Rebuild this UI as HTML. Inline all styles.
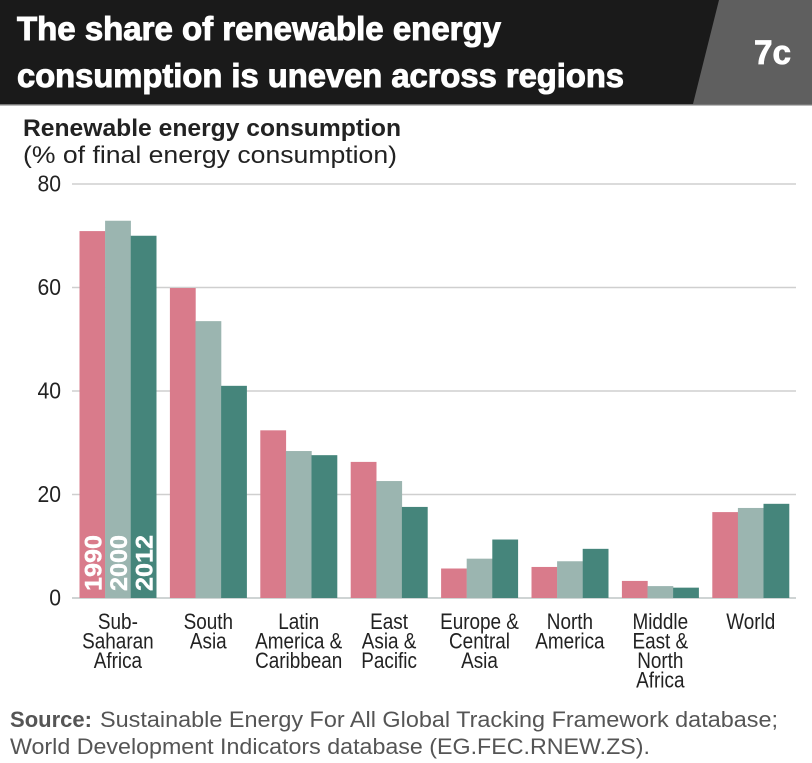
<!DOCTYPE html>
<html>
<head>
<meta charset="utf-8">
<style>
html,body{margin:0;padding:0;background:#fff;}
svg{display:block;}
text{font-family:"Liberation Sans",sans-serif;}
</style>
</head>
<body>
<svg id="chart" xmlns="http://www.w3.org/2000/svg" width="812" height="763" viewBox="0 0 812 763">
  <rect x="0" y="0" width="812" height="763" fill="#ffffff"/>
  <rect x="0" y="0" width="812" height="104" fill="#1a1a1a"/>
  <polygon points="719,0 812,0 812,104 693,104" fill="#5f5f5f"/>
  <rect x="0" y="104" width="812" height="1.5" fill="#777777"/>
  <text x="17" y="40" font-size="33" font-weight="700" fill="#fff" stroke="#fff" stroke-width="1" textLength="484" lengthAdjust="spacingAndGlyphs">The share of renewable energy</text>
  <text x="17" y="87" font-size="33" font-weight="700" fill="#fff" stroke="#fff" stroke-width="1" textLength="607" lengthAdjust="spacingAndGlyphs">consumption is uneven across regions</text>
  <text x="754" y="64" font-size="34" font-weight="700" fill="#fff" stroke="#fff" stroke-width="0.8" textLength="37" lengthAdjust="spacingAndGlyphs">7c</text>
  <text x="23" y="136" font-size="24" font-weight="700" fill="#222" textLength="378" lengthAdjust="spacingAndGlyphs">Renewable energy consumption</text>
  <text x="23" y="163" font-size="24" fill="#222" textLength="374" lengthAdjust="spacingAndGlyphs">(% of final energy consumption)</text>
  <g id="grid"></g>
  <g id="bars"></g>
  <g id="labels"></g>
  <text x="10" y="727" font-size="22" font-weight="700" fill="#555" textLength="82" lengthAdjust="spacingAndGlyphs">Source:</text>
  <text x="100" y="727" font-size="22" fill="#555" textLength="678" lengthAdjust="spacingAndGlyphs">Sustainable Energy For All Global Tracking Framework database;</text>
  <text x="10" y="754" font-size="22" fill="#555" textLength="640" lengthAdjust="spacingAndGlyphs">World Development Indicators database (EG.FEC.RNEW.ZS).</text>
</svg>
<script>
var categories = [
  ["Sub-","Saharan","Africa"],
  ["South","Asia"],
  ["Latin","America &","Caribbean"],
  ["East","Asia &","Pacific"],
  ["Europe &","Central","Asia"],
  ["North","America"],
  ["Middle","East &","North","Africa"],
  ["World"]
];
var seriesNames = ["1990","2000","2012"];
var values1990 = [70.9,59.9,32.4,26.3,5.7,6.0,3.3,16.6];
var values2000 = [72.9,53.5,28.4,22.6,7.6,7.1,2.3,17.4];
var values2012 = [70.0,41.0,27.6,17.6,11.3,9.5,2.0,18.2];
var yTicks = [0,20,40,60,80];

var NS = "http://www.w3.org/2000/svg";
var colors = ["#d97b8b","#9bb5b0","#45857b"];
var allSeries = [values1990,values2000,values2012];
function yScale(v){ return 598 - v * (598 - 184) / 80; }
function groupX(i){ return 79.5 + i * 90.4; }
var barWidth = 25.6;
function add(parent, tag, attrs){
  var el = document.createElementNS(NS, tag);
  for (var k in attrs) el.setAttribute(k, attrs[k]);
  parent.appendChild(el);
  return el;
}
var grid = document.getElementById("grid");
var bars = document.getElementById("bars");
var labels = document.getElementById("labels");

yTicks.forEach(function(t){
  var line = add(grid, "rect", {x:72, y:yScale(t)-0.75, width:724, height:1.5, fill: t === 0 ? "#bfc6c6" : "#cfcfcf"});
  
  
  var lab = add(grid, "text", {transform:"translate(61 "+(yScale(t)+7.5)+") scale(0.92 1)", "text-anchor":"end", "font-size":23, fill:"#222"});
  
  
  lab.textContent = t;
});

categories.forEach(function(cat, i){
  allSeries.forEach(function(vals, s){
    var top = yScale(vals[i]);
    var bar = add(bars, "rect", {x:groupX(i)+s*barWidth, y:top, width:barWidth+0.2, height:yScale(0)-top, fill:colors[s]});
    
    
  });
  var cx = groupX(i) + barWidth * 1.5;
  cat.forEach(function(line, j){
    var t = add(labels, "text", {transform:"translate("+cx+" "+(629 + j*19.5)+") scale(0.86 1)", "text-anchor":"middle", "font-size":22, fill:"#222"});
    
    
    t.textContent = line;
  });
});

seriesNames.forEach(function(name, s){
  var x = groupX(0) + s*barWidth + barWidth/2 + 9;
  var t = add(labels, "text", {x:x, y:591, transform:"rotate(-90 "+x+" 591)", "font-size":24, "font-weight":700, fill:"#fff", stroke:"#fff", "stroke-width":0.4, textLength:56, lengthAdjust:"spacingAndGlyphs"});
  
  
  t.textContent = name;
});
</script>
</body>
</html>
